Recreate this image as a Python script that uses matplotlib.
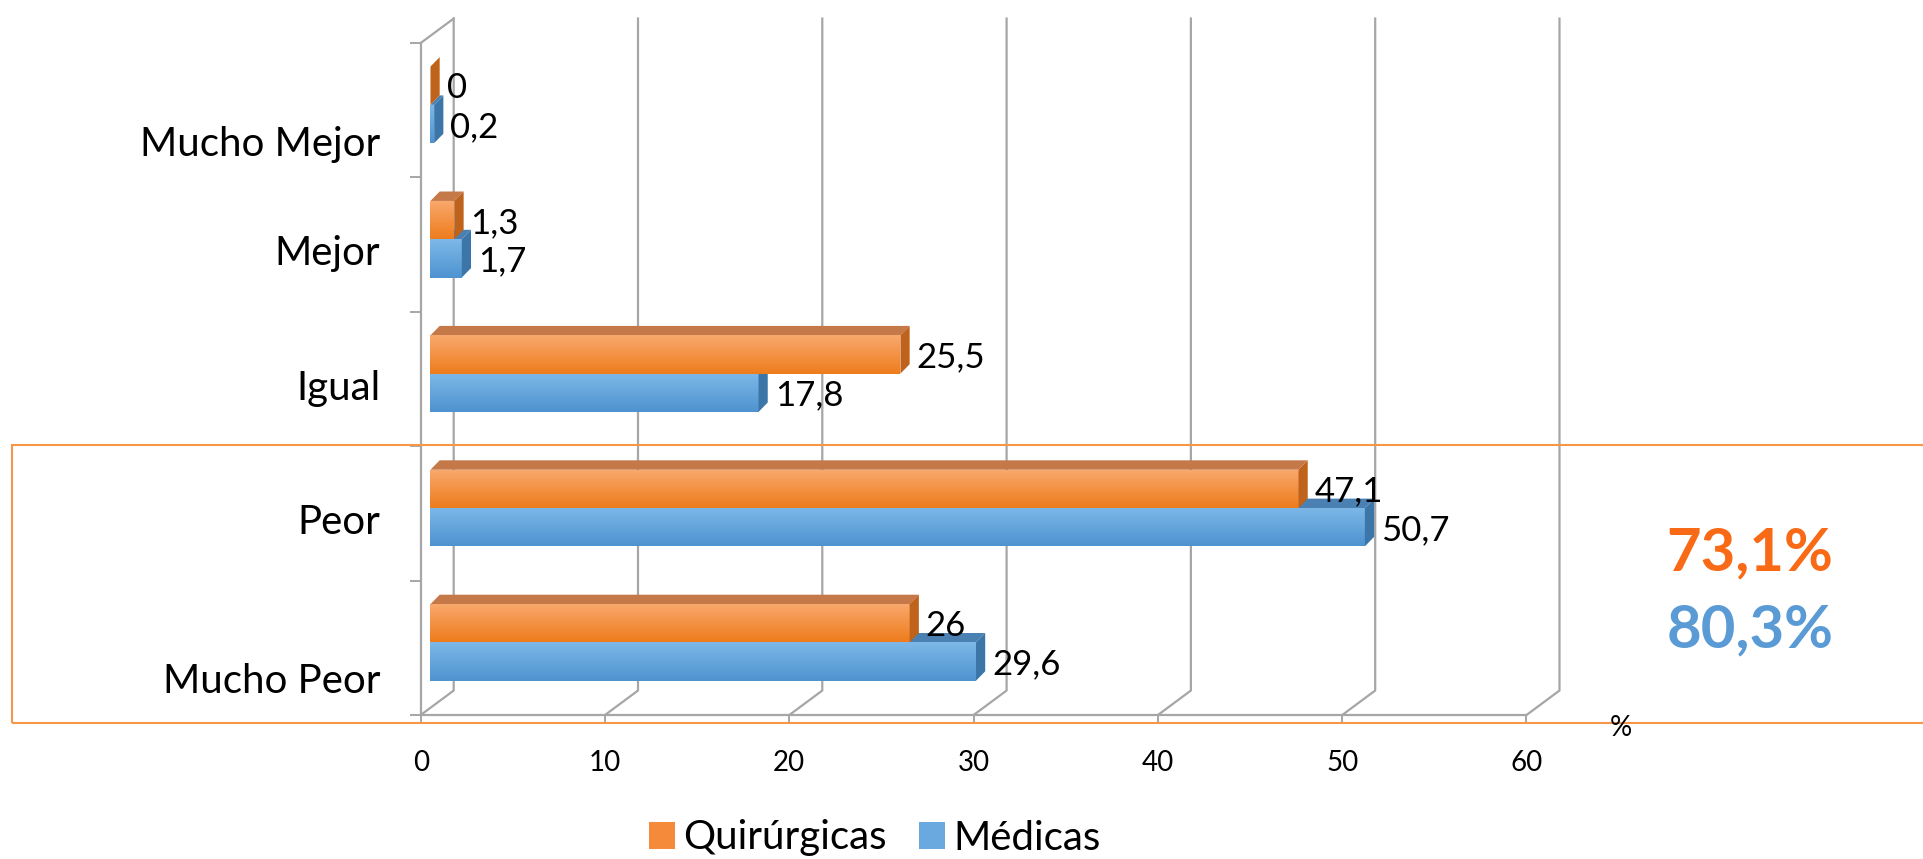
import numpy as np
import matplotlib
matplotlib.use('Agg')
import matplotlib.pyplot as plt
import matplotlib.transforms as mtransforms
from matplotlib.patches import Polygon, Rectangle, Patch
from matplotlib.colors import LinearSegmentedColormap

plt.rcParams['font.family'] = ['Lato', 'DejaVu Sans']

# data
categories = ['Mucho Peor', 'Peor', 'Igual', 'Mejor', 'Mucho Mejor']
quirurgicas = [26, 47.1, 25.5, 1.3, 0]
medicas = [29.6, 50.7, 17.8, 1.7, 0.2]
xticks = [0, 10, 20, 30, 40, 50, 60]
total_quir = '73,1%'
total_med = '80,3%'

# figure in pixels
W, H = 1923, 859
fig = plt.figure(figsize=(W / 100, H / 100), dpi=100)
x0_px, y0_px = 420.7, 715      # front origin (from top)
px_x, px_y = 18.43, 134.4      # pixels per unit
ymax = 5.25
ax = fig.add_axes([x0_px / W, (H - y0_px) / H, 60 * px_x / W, ymax * px_y / H])
ax.set_xlim(0, 60)
ax.set_ylim(0, ymax)

grid = '#A6A6A6'
DX, DY = 1.79, 0.182           # wall depth
BX = 0.53                      # bar plane shift
BDX, BDY = 0.5, 0.07           # bar depth
bh = 0.285

# walls / gridlines
for t in xticks:
    ax.plot([t, t + DX, t + DX], [0, DY, 5 + DY], color=grid, lw=1.6, clip_on=False, zorder=1)
ax.plot([0, DX], [5, 5 + DY], color=grid, lw=1.6, clip_on=False, zorder=1)

for s in ['top', 'right']:
    ax.spines[s].set_visible(False)
for s in ['left', 'bottom']:
    ax.spines[s].set_color(grid)
    ax.spines[s].set_linewidth(1.6)
ax.spines['left'].set_bounds(0, 5)
ax.spines['bottom'].set_bounds(0, 60)

ax.set_xticks(xticks)
ax.set_xticklabels([str(t) for t in xticks])
ax.tick_params(axis='x', length=6, width=1.4, color=grid, pad=19, labelsize=20)
ax.set_yticks(np.arange(6))
ax.set_yticklabels([])
ax.tick_params(axis='y', which='major', length=8, width=1.4, color=grid)
ax.set_yticks(np.arange(5) + 0.5, minor=True)
ax.set_yticklabels(categories, minor=True)
ax.tick_params(axis='y', which='minor', length=0, pad=29, labelsize=29)
for lab, name in zip(ax.get_yticklabels(minor=True), categories):
    dy = -22 if name.startswith('Mucho') else -4
    lab.set_transform(lab.get_transform() + mtransforms.ScaledTranslation(0, dy / 72, fig.dpi_scale_trans))

grad = np.linspace(0, 1, 64).reshape(-1, 1)
series = [
    (medicas, 'lower', ['#4E93D0', '#7DB8E8'], '#4A80B2', '#3C76A8', 2),
    (quirurgicas, 'upper', ['#EE7C1C', '#F9A96E'], '#C57848', '#BF621C', 5),
]
for vals, pos, cols, topc, sidec, z in series:
    cmap = LinearSegmentedColormap.from_list('g', cols)
    for k, v in enumerate(vals):
        gc = k + 0.54
        bot = gc - bh if pos == 'lower' else gc
        top = bot + bh
        # top face
        ax.add_patch(Polygon([(BX, top), (BX + v, top), (BX + v + BDX, top + BDY), (BX + BDX, top + BDY)],
                             closed=True, facecolor=topc, edgecolor='none', zorder=z))
        # front face
        b = ax.barh(bot, v, height=bh, left=BX, align='edge', color=cols[0], zorder=z + 0.1)[0]
        if v > 0:
            im = ax.imshow(grad, extent=(BX, BX + v, bot, top), origin='lower', cmap=cmap,
                           aspect='auto', zorder=z + 0.2, interpolation='bilinear')
            im.set_clip_path(b)
        # side face
        ax.add_patch(Polygon([(BX + v, bot), (BX + v + BDX, bot + BDY), (BX + v + BDX, top + BDY), (BX + v, top)],
                             closed=True, facecolor=sidec, edgecolor='none', zorder=z + 0.3))
        lab = f'{v:g}'.replace('.', ',')
        ax.annotate(lab, xy=(BX + v + BDX, (bot + top) / 2), xytext=(5, -2), textcoords='offset points',
                    ha='left', va='center', fontsize=25, color='black', zorder=10, annotation_clip=False)

ax.set_xlim(0, 60)
ax.set_ylim(0, ymax)

# highlight box
fig.add_artist(Rectangle((12 / W, (H - 723) / H), 2.0, (723 - 445) / H, transform=fig.transFigure,
                         fill=False, edgecolor='#F79646', lw=1.5))

fig.text(1750 / W, 1 - 553 / H, total_quir, color='#F96A17', fontsize=43, fontweight='bold',
         ha='center', va='center')
fig.text(1750 / W, 1 - 630 / H, total_med, color='#5B9BD5', fontsize=43, fontweight='bold',
         ha='center', va='center')
fig.text(1621 / W, 1 - 728 / H, '%', fontsize=20, ha='center', va='center')

handles = [Patch(facecolor='#F58A3A', label='Quirúrgicas'), Patch(facecolor='#6AA8E0', label='Médicas')]
fig.legend(handles=handles, loc='center', bbox_to_anchor=(875 / W, 1 - 838 / H), ncol=2, frameon=False,
           fontsize=29, handlelength=0.65, handleheight=0.65, handletextpad=0.2, columnspacing=0.8)

plt.savefig('out.png', dpi=100)
